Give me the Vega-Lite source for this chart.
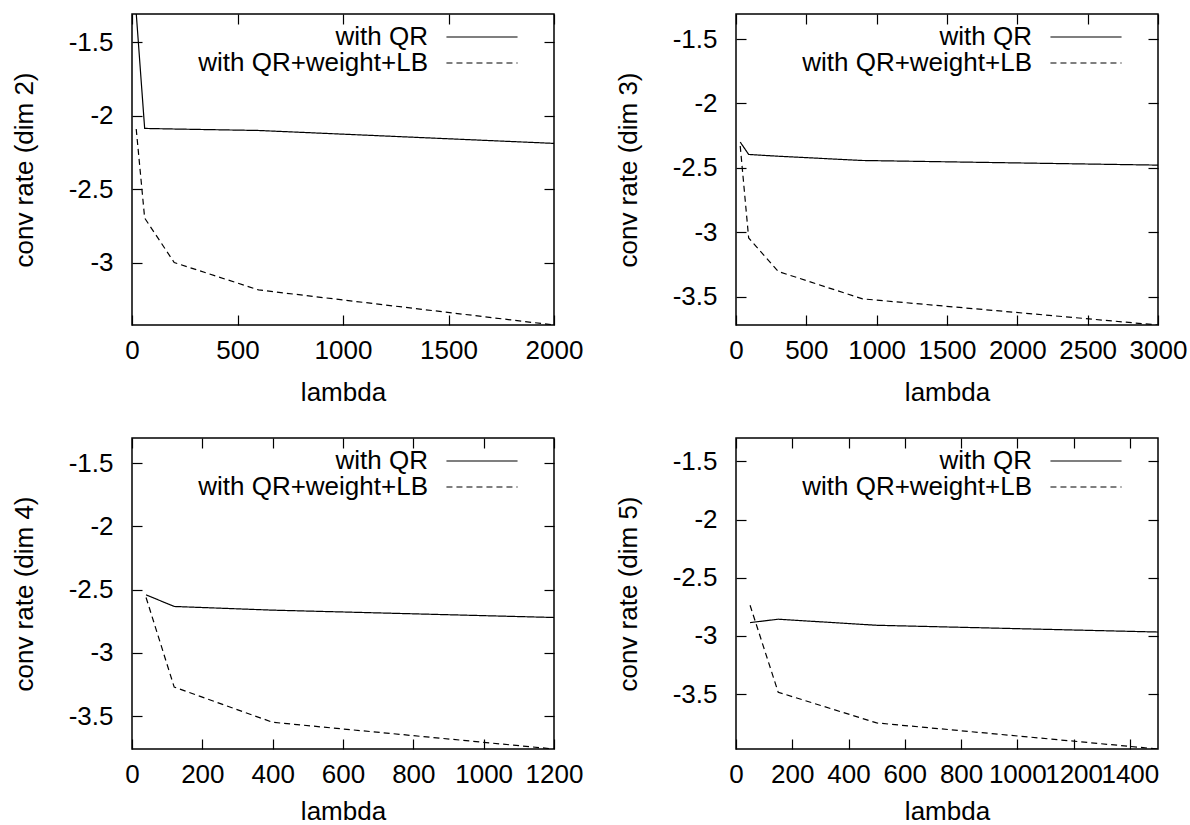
{
  "$schema": "https://vega.github.io/schema/vega-lite/v6.json",
  "background": "white",
  "padding": {"left": 10, "top": 9, "right": 0, "bottom": 3},
  "columns": 2,
  "spacing": {"row": 113, "column": 182},
  "bounds": "flush",
  "resolve": {"scale": {"strokeDash": "independent"}, "legend": {"strokeDash": "independent"}},
  "concat": [
    {
      "width": 422, "height": 311,
      "data": {"values": [
        {"series": "with QR", "lambda": 20, "rate": -1.3},
        {"series": "with QR", "lambda": 60, "rate": -2.086},
        {"series": "with QR", "lambda": 200, "rate": -2.09},
        {"series": "with QR", "lambda": 600, "rate": -2.1},
        {"series": "with QR", "lambda": 2000, "rate": -2.188},
        {"series": "with QR+weight+LB", "lambda": 20, "rate": -2.09},
        {"series": "with QR+weight+LB", "lambda": 60, "rate": -2.697},
        {"series": "with QR+weight+LB", "lambda": 200, "rate": -3.0},
        {"series": "with QR+weight+LB", "lambda": 600, "rate": -3.187},
        {"series": "with QR+weight+LB", "lambda": 2000, "rate": -3.426}
      ]},
      "layer": [
        {
          "mark": {"type": "line", "clip": true, "color": "black", "strokeWidth": 1.2},
          "encoding": {
            "x": {"field": "lambda", "type": "quantitative", "scale": {"domain": [0, 2000], "nice": false, "zero": false},
                  "axis": {"orient": "bottom", "title": "lambda", "values": [0, 500, 1000, 1500, 2000], "format": "d", "labelFlush": false, "labelOverlap": false, "tickSize": -10, "labelPadding": 22, "titleY": 75, "titleBaseline": "alphabetic"}},
            "y": {"field": "rate", "type": "quantitative", "scale": {"domain": [-3.426, -1.306], "nice": false, "zero": false},
                  "axis": {"orient": "left", "title": "conv rate (dim 2)", "values": [-3, -2.5, -2, -1.5], "format": "~g", "labelOverlap": false, "tickSize": -10, "labelPadding": 29, "titleX": -100, "titleBaseline": "alphabetic"}},
            "strokeDash": {"field": "series", "type": "nominal", "scale": {"domain": ["with QR", "with QR+weight+LB"], "range": [[1, 0], [6, 4]]},
                  "legend": {"title": null, "orient": "none", "legendX": 337, "legendY": 10, "labelAlign": "right", "labelOffset": -67, "symbolType": "M-8,0H8", "symbolSize": 79, "symbolStrokeWidth": 1.2, "symbolStrokeColor": "black", "labelFontSize": 26, "labelFont": "Liberation Sans", "labelColor": "black", "rowPadding": 0, "padding": 0, "labelLimit": 0}}
          }
        },
        {
          "mark": {"type": "point", "opacity": 0},
          "encoding": {
            "x": {"field": "lambda", "type": "quantitative", "axis": {"orient": "top", "labels": false, "title": null, "values": [0, 500, 1000, 1500, 2000], "tickSize": -10}},
            "y": {"field": "rate", "type": "quantitative", "axis": {"orient": "right", "labels": false, "title": null, "values": [-3, -2.5, -2, -1.5], "tickSize": -10}}
          }
        }
      ],
      "resolve": {"axis": {"x": "independent", "y": "independent"}}
    },
    {
      "width": 422, "height": 311,
      "data": {"values": [
        {"series": "with QR", "lambda": 30, "rate": -2.3},
        {"series": "with QR", "lambda": 90, "rate": -2.396},
        {"series": "with QR", "lambda": 300, "rate": -2.41},
        {"series": "with QR", "lambda": 900, "rate": -2.443},
        {"series": "with QR", "lambda": 3000, "rate": -2.479},
        {"series": "with QR+weight+LB", "lambda": 30, "rate": -2.33},
        {"series": "with QR+weight+LB", "lambda": 90, "rate": -3.045},
        {"series": "with QR+weight+LB", "lambda": 300, "rate": -3.305},
        {"series": "with QR+weight+LB", "lambda": 900, "rate": -3.518},
        {"series": "with QR+weight+LB", "lambda": 3000, "rate": -3.721}
      ]},
      "layer": [
        {
          "mark": {"type": "line", "clip": true, "color": "black", "strokeWidth": 1.2},
          "encoding": {
            "x": {"field": "lambda", "type": "quantitative", "scale": {"domain": [0, 3000], "nice": false, "zero": false},
                  "axis": {"orient": "bottom", "title": "lambda", "values": [0, 500, 1000, 1500, 2000, 2500, 3000], "format": "d", "labelFlush": false, "labelOverlap": false, "tickSize": -10, "labelPadding": 22, "titleY": 75, "titleBaseline": "alphabetic"}},
            "y": {"field": "rate", "type": "quantitative", "scale": {"domain": [-3.721, -1.305], "nice": false, "zero": false},
                  "axis": {"orient": "left", "title": "conv rate (dim 3)", "values": [-3.5, -3, -2.5, -2, -1.5], "format": "~g", "labelOverlap": false, "tickSize": -10, "labelPadding": 29, "titleX": -100, "titleBaseline": "alphabetic"}},
            "strokeDash": {"field": "series", "type": "nominal", "scale": {"domain": ["with QR", "with QR+weight+LB"], "range": [[1, 0], [6, 4]]},
                  "legend": {"title": null, "orient": "none", "legendX": 337, "legendY": 10, "labelAlign": "right", "labelOffset": -67, "symbolType": "M-8,0H8", "symbolSize": 79, "symbolStrokeWidth": 1.2, "symbolStrokeColor": "black", "labelFontSize": 26, "labelFont": "Liberation Sans", "labelColor": "black", "rowPadding": 0, "padding": 0, "labelLimit": 0}}
          }
        },
        {
          "mark": {"type": "point", "opacity": 0},
          "encoding": {
            "x": {"field": "lambda", "type": "quantitative", "axis": {"orient": "top", "labels": false, "title": null, "values": [0, 500, 1000, 1500, 2000, 2500, 3000], "tickSize": -10}},
            "y": {"field": "rate", "type": "quantitative", "axis": {"orient": "right", "labels": false, "title": null, "values": [-3.5, -3, -2.5, -2, -1.5], "tickSize": -10}}
          }
        }
      ],
      "resolve": {"axis": {"x": "independent", "y": "independent"}}
    },
    {
      "width": 422, "height": 311,
      "data": {"values": [
        {"series": "with QR", "lambda": 40, "rate": -2.541},
        {"series": "with QR", "lambda": 120, "rate": -2.633},
        {"series": "with QR", "lambda": 400, "rate": -2.662},
        {"series": "with QR", "lambda": 1200, "rate": -2.72},
        {"series": "with QR+weight+LB", "lambda": 40, "rate": -2.562},
        {"series": "with QR+weight+LB", "lambda": 120, "rate": -3.27},
        {"series": "with QR+weight+LB", "lambda": 400, "rate": -3.548},
        {"series": "with QR+weight+LB", "lambda": 1200, "rate": -3.759}
      ]},
      "layer": [
        {
          "mark": {"type": "line", "clip": true, "color": "black", "strokeWidth": 1.2},
          "encoding": {
            "x": {"field": "lambda", "type": "quantitative", "scale": {"domain": [0, 1200], "nice": false, "zero": false},
                  "axis": {"orient": "bottom", "title": "lambda", "values": [0, 200, 400, 600, 800, 1000, 1200], "format": "d", "labelFlush": false, "labelOverlap": false, "tickSize": -10, "labelPadding": 22, "titleY": 70, "titleBaseline": "alphabetic"}},
            "y": {"field": "rate", "type": "quantitative", "scale": {"domain": [-3.759, -1.302], "nice": false, "zero": false},
                  "axis": {"orient": "left", "title": "conv rate (dim 4)", "values": [-3.5, -3, -2.5, -2, -1.5], "format": "~g", "labelOverlap": false, "tickSize": -10, "labelPadding": 29, "titleX": -100, "titleBaseline": "alphabetic"}},
            "strokeDash": {"field": "series", "type": "nominal", "scale": {"domain": ["with QR", "with QR+weight+LB"], "range": [[1, 0], [6, 4]]},
                  "legend": {"title": null, "orient": "none", "legendX": 337, "legendY": 10, "labelAlign": "right", "labelOffset": -67, "symbolType": "M-8,0H8", "symbolSize": 79, "symbolStrokeWidth": 1.2, "symbolStrokeColor": "black", "labelFontSize": 26, "labelFont": "Liberation Sans", "labelColor": "black", "rowPadding": 0, "padding": 0, "labelLimit": 0}}
          }
        },
        {
          "mark": {"type": "point", "opacity": 0},
          "encoding": {
            "x": {"field": "lambda", "type": "quantitative", "axis": {"orient": "top", "labels": false, "title": null, "values": [0, 200, 400, 600, 800, 1000, 1200], "tickSize": -10}},
            "y": {"field": "rate", "type": "quantitative", "axis": {"orient": "right", "labels": false, "title": null, "values": [-3.5, -3, -2.5, -2, -1.5], "tickSize": -10}}
          }
        }
      ],
      "resolve": {"axis": {"x": "independent", "y": "independent"}}
    },
    {
      "width": 422, "height": 311,
      "data": {"values": [
        {"series": "with QR", "lambda": 50, "rate": -2.885},
        {"series": "with QR", "lambda": 150, "rate": -2.856},
        {"series": "with QR", "lambda": 500, "rate": -2.908},
        {"series": "with QR", "lambda": 1500, "rate": -2.966},
        {"series": "with QR+weight+LB", "lambda": 50, "rate": -2.736},
        {"series": "with QR+weight+LB", "lambda": 150, "rate": -3.483},
        {"series": "with QR+weight+LB", "lambda": 500, "rate": -3.747},
        {"series": "with QR+weight+LB", "lambda": 1500, "rate": -3.971}
      ]},
      "layer": [
        {
          "mark": {"type": "line", "clip": true, "color": "black", "strokeWidth": 1.2},
          "encoding": {
            "x": {"field": "lambda", "type": "quantitative", "scale": {"domain": [0, 1500], "nice": false, "zero": false},
                  "axis": {"orient": "bottom", "title": "lambda", "values": [0, 200, 400, 600, 800, 1000, 1200, 1400], "format": "d", "labelFlush": false, "labelOverlap": false, "tickSize": -10, "labelPadding": 22, "titleY": 70, "titleBaseline": "alphabetic"}},
            "y": {"field": "rate", "type": "quantitative", "scale": {"domain": [-3.971, -1.299], "nice": false, "zero": false},
                  "axis": {"orient": "left", "title": "conv rate (dim 5)", "values": [-3.5, -3, -2.5, -2, -1.5], "format": "~g", "labelOverlap": false, "tickSize": -10, "labelPadding": 29, "titleX": -100, "titleBaseline": "alphabetic"}},
            "strokeDash": {"field": "series", "type": "nominal", "scale": {"domain": ["with QR", "with QR+weight+LB"], "range": [[1, 0], [6, 4]]},
                  "legend": {"title": null, "orient": "none", "legendX": 337, "legendY": 10, "labelAlign": "right", "labelOffset": -67, "symbolType": "M-8,0H8", "symbolSize": 79, "symbolStrokeWidth": 1.2, "symbolStrokeColor": "black", "labelFontSize": 26, "labelFont": "Liberation Sans", "labelColor": "black", "rowPadding": 0, "padding": 0, "labelLimit": 0}}
          }
        },
        {
          "mark": {"type": "point", "opacity": 0},
          "encoding": {
            "x": {"field": "lambda", "type": "quantitative", "axis": {"orient": "top", "labels": false, "title": null, "values": [0, 200, 400, 600, 800, 1000, 1200, 1400], "tickSize": -10}},
            "y": {"field": "rate", "type": "quantitative", "axis": {"orient": "right", "labels": false, "title": null, "values": [-3.5, -3, -2.5, -2, -1.5], "tickSize": -10}}
          }
        }
      ],
      "resolve": {"axis": {"x": "independent", "y": "independent"}}
    }
  ],
  "config": {
    "font": "Liberation Sans",
    "view": {"stroke": "black", "strokeWidth": 1.5},
    "axis": {"domain": false, "grid": false, "labelFont": "Liberation Sans", "labelFontSize": 26, "labelColor": "black", "titleFont": "Liberation Sans", "titleFontSize": 26, "titleFontWeight": "normal", "titleColor": "black", "tickColor": "black", "tickWidth": 1.2},
    "locale": {"number": {"decimal": ".", "thousands": ",", "grouping": [3], "currency": ["$", ""], "minus": "-"}}
  }
}
